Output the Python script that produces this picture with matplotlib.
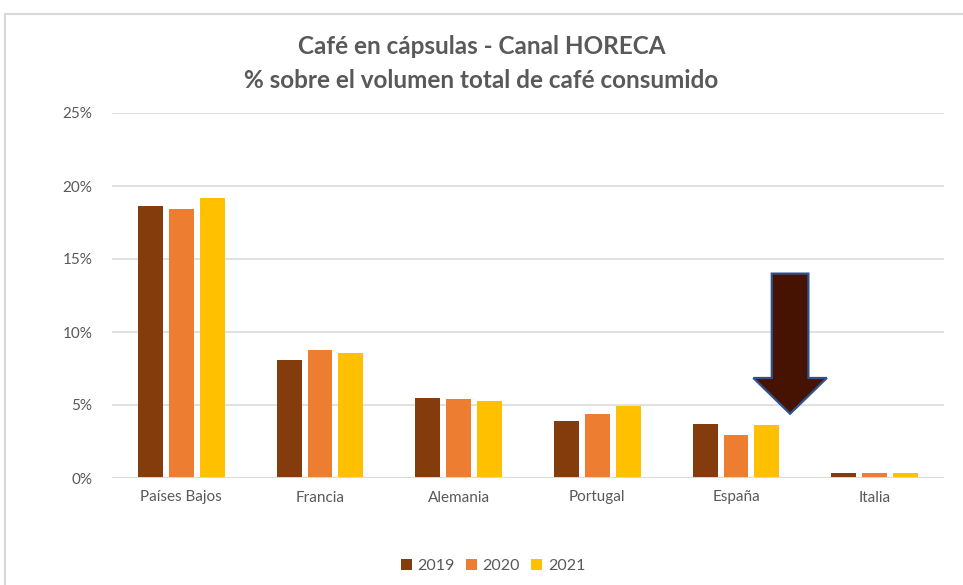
import matplotlib.pyplot as plt
import numpy as np
from matplotlib.patches import Polygon
from matplotlib.lines import Line2D
from matplotlib.ticker import FuncFormatter

paises = ['Países Bajos', 'Francia', 'Alemania', 'Portugal', 'España', 'Italia']
anios = ['2019', '2020', '2021']
v2019 = [18.6, 8.1, 5.5, 3.9, 3.7, 0.35]
v2020 = [18.4, 8.8, 5.4, 4.4, 2.95, 0.35]
v2021 = [19.2, 8.55, 5.3, 4.9, 3.65, 0.35]
colores = ['#843C0C', '#ED7D31', '#FFC000']
gris = '#595959'

plt.rcParams['font.family'] = ['Lato', 'DejaVu Sans']

fig = plt.figure(figsize=(9.63, 5.85), dpi=100)
ax = fig.add_axes([112/963, 1-478/585, 832/963, 365/585])

x = np.arange(len(paises))
ancho = 0.18
sep = 0.222
for i, (vals, col) in enumerate(zip([v2019, v2020, v2021], colores)):
  ax.bar(x + (i-1)*sep, vals, ancho, color=col, label=anios[i], zorder=3)

ax.set_xlim(-0.5, len(paises)-0.5)
ax.set_ylim(0, 25)
ax.set_yticks(np.arange(0, 26, 5))
ax.yaxis.set_major_formatter(FuncFormatter(lambda v, p: '%d%%' % v))
ax.set_xticks(x)
ax.set_xticklabels(paises)
ax.tick_params(axis='both', length=0, colors=gris, labelsize=11)
ax.tick_params(axis='y', pad=14)
ax.tick_params(axis='x', pad=9)
ax.grid(axis='y', color='#D9D9D9', linewidth=1.1, zorder=0)
for s in ax.spines.values():
  s.set_visible(False)
ax.axhline(0, color='#D9D9D9', linewidth=1.4, zorder=4)

# flecha sobre Espana
i_esp = paises.index('España')
cx = i_esp + 0.39
ax.add_patch(Polygon([(cx-0.132, 14.0), (cx+0.132, 14.0), (cx+0.132, 6.85),
                      (cx+0.265, 6.85), (cx, 4.4), (cx-0.265, 6.85),
                      (cx-0.132, 6.85)],
                     closed=True, facecolor='#461302', edgecolor='#2F528F',
                     linewidth=1.6, zorder=5))

fig.text(0.5, 1-47/585, 'Café en cápsulas - Canal HORECA', ha='center', va='center',
         fontsize=17.5, fontweight='bold', color=gris)
fig.text(0.5, 1-80/585, '% sobre el volumen total de café consumido', ha='center',
         va='center', fontsize=17.5, fontweight='bold', color=gris)

fig.legend(loc='center', bbox_to_anchor=(493/963, 1-566/585), ncol=3, frameon=False,
           fontsize=11.5, labelcolor=gris, handlelength=0.7, handleheight=0.7,
           handletextpad=0.35, columnspacing=0.7)

# marco
fig.add_artist(Line2D([5/963, 5/963], [0, 1-14/585], color='#D9D9D9', linewidth=1.5))
fig.add_artist(Line2D([5/963, 1], [1-14/585, 1-14/585], color='#D9D9D9', linewidth=1.5))

fig.savefig('out.png', dpi=100)
